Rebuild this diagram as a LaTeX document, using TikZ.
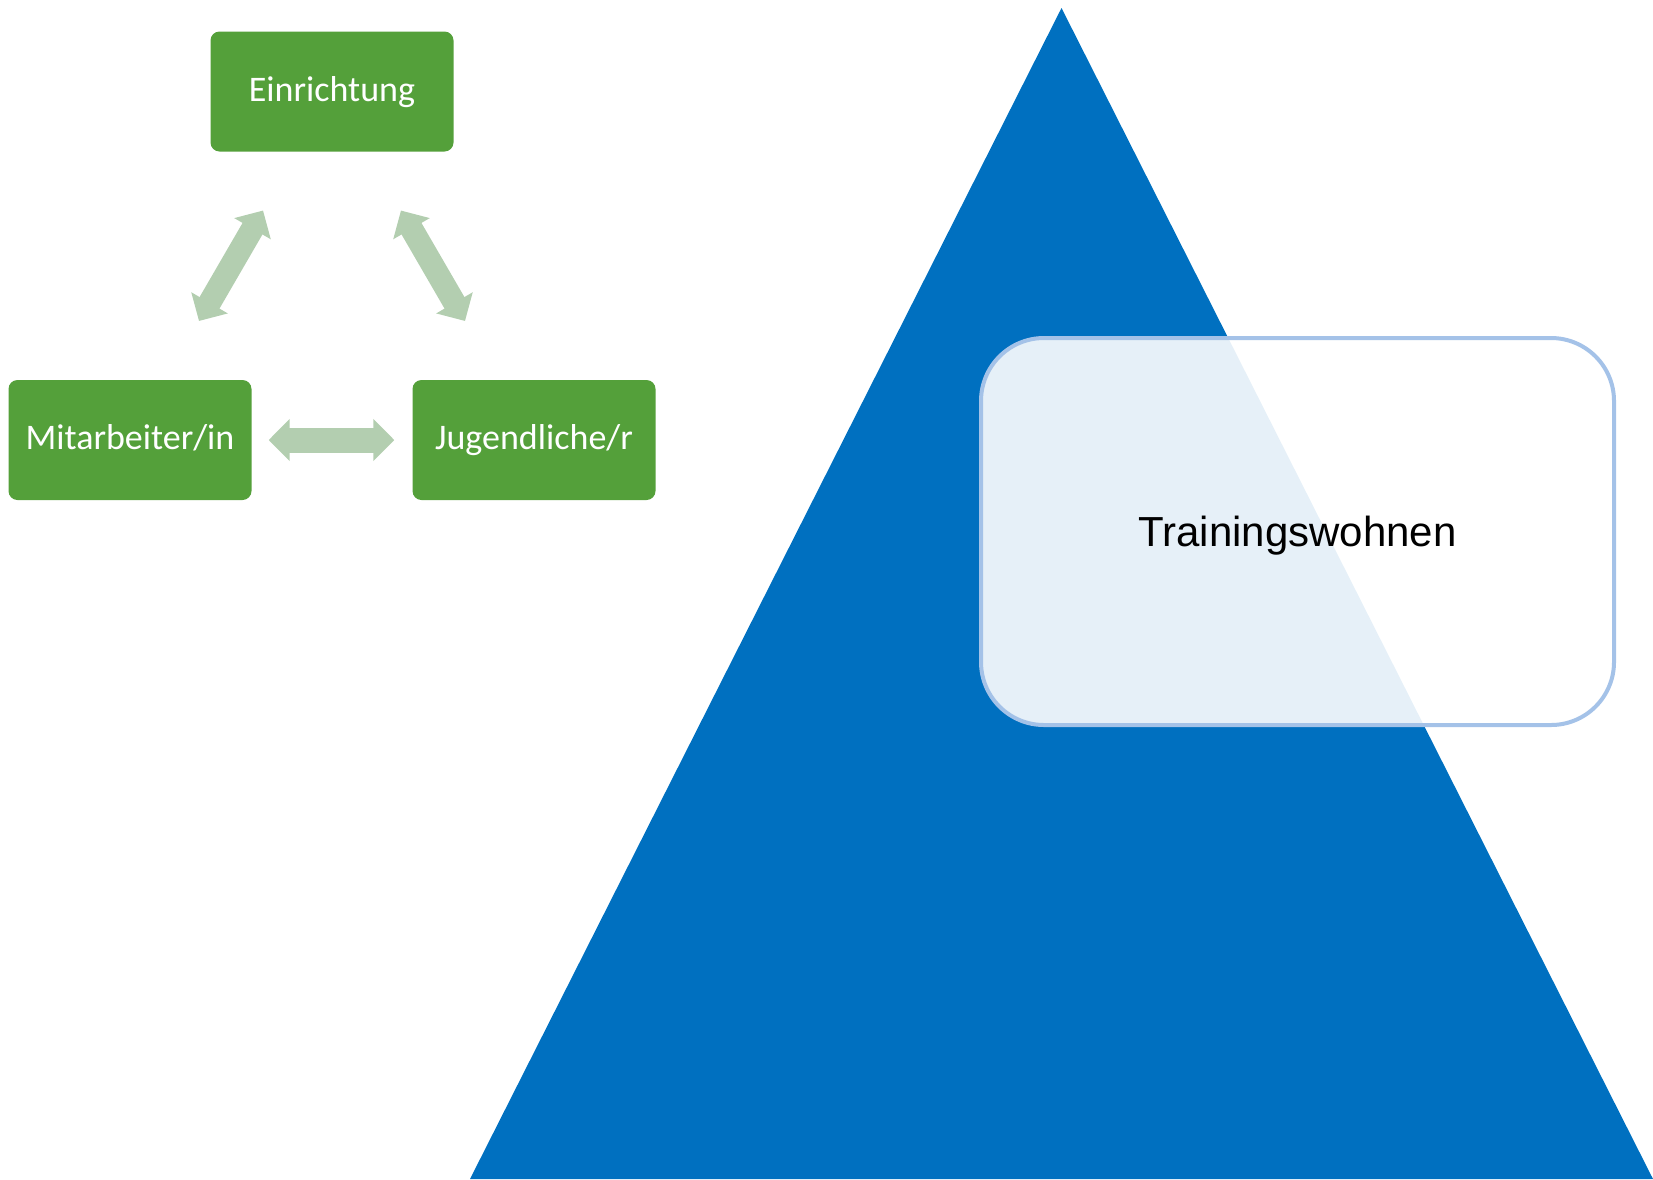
\documentclass[tikz,border=0pt]{standalone}
\usepackage{fontspec}
\setmainfont{Liberation Sans}
\newfontfamily\calibri{Carlito}
\usetikzlibrary{arrows.meta}
\definecolor{pyramidblue}{RGB}{0,112,192}
\definecolor{boxgreen}{RGB}{84,160,58}
\definecolor{arrowgreen}{RGB}{179,206,176}
\definecolor{frameblue}{RGB}{164,194,232}
\begin{document}
\begin{tikzpicture}[x=1pt,y=-1pt,
    rolebox/.style={fill=boxgreen,rounded corners=9pt,minimum width=243pt,minimum height=120pt,
      text=white,text height=23pt,text depth=4pt,font=\calibri\fontsize{36}{43}\selectfont},
    dblarrow/.style={arrowgreen,line width=23pt,
      {Triangle[width=41pt,length=21pt]}-{Triangle[width=41pt,length=21pt]}}]
  \useasboundingbox (0,0) rectangle (1653,1179);
  \fill[pyramidblue] (1061.5,8) -- (1653,1179) -- (470,1179) -- cycle;
  \node[rolebox] (ein) at (332,91.5) {Einrichtung};
  \node[rolebox] (mit) at (130,440) {Mitarbeiter/in};
  \node[rolebox] (jug) at (534,440) {Jugendliche/r};
  \draw[dblarrow,shorten <=68pt,shorten >=68pt] (ein) -- (mit);
  \draw[dblarrow,shorten <=68pt,shorten >=68pt] (ein) -- (jug);
  \draw[dblarrow,line width=25pt,shorten <=17pt,shorten >=18pt] (mit) -- (jug);
  \node[draw=frameblue,line width=4pt,fill=white,fill opacity=.9,text opacity=1,
    rounded corners=63pt,minimum width=633pt,minimum height=387pt,
    text height=30pt,text depth=1pt,font=\fontsize{42}{50}\selectfont] (tw) at (1297.5,531.5) {Trainingswohnen};
\end{tikzpicture}
\end{document}
